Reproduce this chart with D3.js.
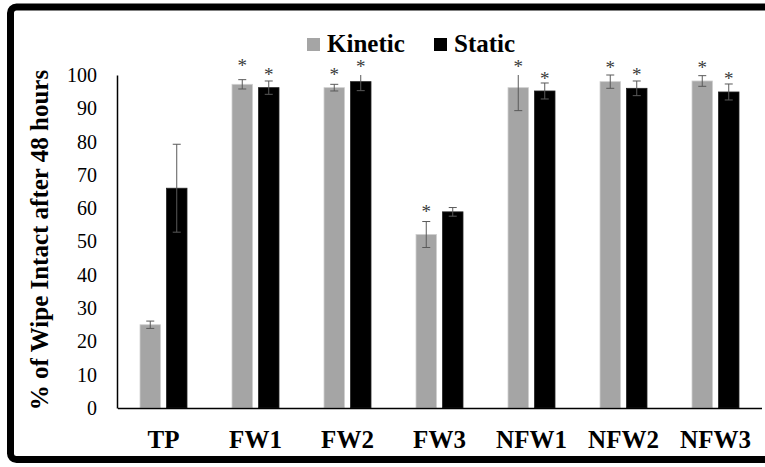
<!DOCTYPE html>
<html><head><meta charset="utf-8">
<script src="https://cdn.jsdelivr.net/npm/d3@7"></script>
<style>html,body{margin:0;padding:0;background:#fff;}svg{display:block;}svg text{font-family:"Liberation Serif","Times New Roman",serif;}</style>
</head><body>
<svg id="chart" width="765" height="467"></svg>
<script>
const categories = ["TP","FW1","FW2","FW3","NFW1","NFW2","NFW3"];
const seriesNames = ["Kinetic","Static"];
const kineticValues = [25, 97.2, 96.2, 52.1, 96.2, 98, 98.2];
const kineticErrors = [1.1, 1.4, 1.0, 3.9, 6.9, 2.0, 1.6];
const staticValues = [66, 96.2, 98, 58.9, 95.2, 96, 94.9];
const staticErrors = [13.2, 2.0, 2.7, 1.3, 2.4, 2.2, 2.4];
const kineticStars = [null, 103.6, 100.7, 59.7, 103.3, 102.8, 103];
const staticStars = [null, 100.7, 103.2, null, 99.7, 100.7, 99.7];
const yTicks = [0,10,20,30,40,50,60,70,80,90,100];
const yTitle = "% of Wipe Intact after 48 hours";

const colors = {Kinetic:"#a5a5a5", Static:"#000000"};
const serif = '"Liberation Serif", "Times New Roman", serif';
const svg = d3.select("#chart");

// frame
svg.append("rect").attr("x",10.5).attr("y",7).attr("width",800).attr("height",452.5)
  .attr("rx",6).attr("fill","#fff").attr("stroke","#000").attr("stroke-width",7);

const x0 = d3.scaleBand().domain(categories).range([117.5, 761.5]).padding(0);
const x1 = d3.scaleBand().domain(seriesNames).range([22.5, 69.5]).paddingInner(0.2264).paddingOuter(0);
const yMax = 100;
const y = d3.scaleLinear().domain([0, yMax]).range([408, 75]);

const data = categories.map((c,i)=>({
  cat:c,
  items:[
    {s:"Kinetic", v:kineticValues[i], e:kineticErrors[i], star:kineticStars[i]},
    {s:"Static", v:staticValues[i], e:staticErrors[i], star:staticStars[i]}
  ]
}));

const g = svg.append("g");
const groups = g.selectAll("g.grp").data(data).join("g")
  .attr("transform", d=>`translate(${x0(d.cat)},0)`);

groups.selectAll("rect").data(d=>d.items).join("rect")
  .attr("x", d=>x1(d.s)).attr("width", x1.bandwidth())
  .attr("y", d=>y(d.v)).attr("height", d=>y(0)-y(d.v))
  .attr("fill", d=>colors[d.s])
  .attr("stroke", d=>d.s==="Kinetic" ? "#cfcfcf" : "#222").attr("stroke-width",0.8);

// error bars
const eb = groups.selectAll("g.err").data(d=>d.items).join("g").attr("class","err");
eb.each(function(d){
  const gg = d3.select(this);
  const cx = x1(d.s) + x1.bandwidth()/2;
  const hiVal = Math.min(d.v + d.e, yMax);
  const loVal = d.v - d.e;
  const col = "#5a5a5a";
  gg.append("line").attr("x1",cx).attr("x2",cx).attr("y1",y(hiVal)).attr("y2",y(loVal))
    .attr("stroke",col).attr("stroke-width",1);
  if (d.v + d.e <= yMax) {
    gg.append("line").attr("x1",cx-4).attr("x2",cx+4).attr("y1",y(hiVal)).attr("y2",y(hiVal))
      .attr("stroke",col).attr("stroke-width",1);
  }
  gg.append("line").attr("x1",cx-4).attr("x2",cx+4).attr("y1",y(loVal)).attr("y2",y(loVal))
    .attr("stroke",col).attr("stroke-width",1);
});

// stars
const starFs = 19;
groups.selectAll("text.star").data(d=>d.items.filter(it=>it.star!==null)).join("text")
  .attr("class","star")
  .attr("x", d=>x1(d.s)+x1.bandwidth()/2)
  .attr("y", d=>y(d.star) + starFs*0.46)
  .attr("text-anchor","middle")
  .style("font-family",serif).style("font-size",starFs+"px").attr("fill","#3a3a3a")
  .text("*");

// axes
const yAxis = d3.axisLeft(y).tickValues(yTicks).tickSize(0).tickPadding(20);
const ya = svg.append("g").attr("transform","translate(117,0)").call(yAxis);
ya.attr("font-family", null).attr("font-size", null);
ya.select(".domain").attr("stroke","#000").attr("stroke-width",1.5);
ya.selectAll("text").style("font-family",serif).style("font-size","20px").attr("fill","#000");

const xAxis = d3.axisBottom(x0).tickSize(0).tickPadding(22);
const xa = svg.append("g").attr("transform","translate(0,408)").call(xAxis);
xa.attr("font-family", null).attr("font-size", null);
xa.select(".domain").attr("stroke","#000").attr("stroke-width",1.5);
xa.selectAll("text").style("font-family",serif).style("font-size","25px").style("font-weight","bold").attr("fill","#000");

// y title
svg.append("text")
  .attr("transform","translate(48,240) rotate(-90)")
  .attr("text-anchor","middle")
  .style("font-family",serif).style("font-size","25px").style("font-weight","bold").attr("fill","#000")
  .text(yTitle);

// legend
const legendX = [307, 434];
const leg = svg.selectAll("g.leg").data(seriesNames).join("g")
  .attr("transform",(d,i)=>`translate(${legendX[i]},38)`);
leg.append("rect").attr("width",13).attr("height",13).attr("fill",d=>colors[d]);
leg.append("text").attr("x",20).attr("y",14)
  .style("font-family",serif).style("font-size","25px").style("font-weight","bold").attr("fill","#000")
  .text(d=>d);
</script>
</body></html>
